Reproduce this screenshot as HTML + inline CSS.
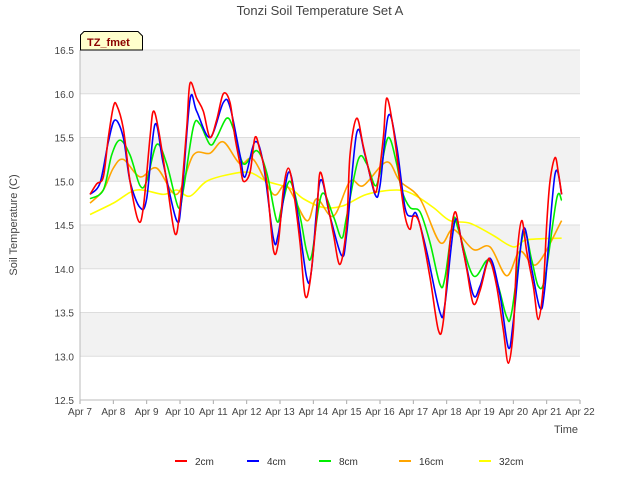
<!DOCTYPE html>
<html><head><meta charset="utf-8"><style>
body{margin:0;background:#fff;font-family:"Liberation Sans",sans-serif;}
svg text{font-family:"Liberation Sans",sans-serif;}
</style></head><body>
<svg width="640" height="480" viewBox="0 0 640 480">
<g id="bands"></g><g id="grid"></g><g id="axes"></g><g id="series"></g>
<text x="320" y="15" text-anchor="middle" font-size="13" fill="#444">Tonzi Soil Temperature Set A</text>
<text x="17" y="225" text-anchor="middle" font-size="11" fill="#444" transform="rotate(-90 17 225)">Soil Temperature (C)</text>
<text x="578" y="433" text-anchor="end" font-size="11" fill="#444">Time</text>
<g><path d="M80.5,50 L80.5,35 L84,31.5 L138,31.5 L142.5,36 L142.5,50 Z" fill="#ffffcc" stroke="#000" stroke-width="1"/>
<text x="87" y="46" font-size="11" font-weight="bold" fill="#8b0000">TZ_fmet</text></g>
<g id="legend"></g>
</svg>
<script>
const yTicks=[12.5,13,13.5,14,14.5,15,15.5,16,16.5];
const xTickLabels=["Apr 7","Apr 8","Apr 9","Apr 10","Apr 11","Apr 12","Apr 13","Apr 14","Apr 15","Apr 16","Apr 17","Apr 18","Apr 19","Apr 20","Apr 21","Apr 22"];
const seriesNames=["2cm","4cm","8cm","16cm","32cm"];
const seriesColors=["#ff0000","#0000ff","#00ee00","#ffa500","#ffff00"];
const t2=[7.3,7.5,7.7,7.85,8.0,8.1,8.3,8.5,8.75,8.9,9.1,9.2,9.35,9.6,9.85,10.0,10.2,10.3,10.5,10.7,10.9,11.1,11.3,11.5,11.65,11.8,11.9,12.1,12.25,12.4,12.6,12.8,12.95,13.1,13.25,13.4,13.6,13.75,13.9,14.1,14.2,14.4,14.6,14.8,15.0,15.1,15.3,15.5,15.75,15.9,16.1,16.2,16.4,16.6,16.75,16.9,17.0,17.2,17.5,17.75,17.9,18.1,18.25,18.4,18.6,18.8,19.0,19.2,19.3,19.5,19.7,19.85,20.0,20.1,20.25,20.4,20.6,20.75,20.9,21.0,21.1,21.25,21.35,21.45];
const v2=[14.85,14.97,15.05,15.5,15.85,15.87,15.6,15.0,14.55,14.7,15.5,15.8,15.6,15.0,14.4,14.7,15.6,16.12,15.95,15.8,15.5,15.7,16.0,15.9,15.5,15.2,15.0,15.1,15.5,15.35,15.0,14.22,14.3,14.9,15.15,14.9,14.3,13.7,13.85,14.6,15.1,14.8,14.4,14.05,14.5,15.3,15.72,15.4,15.0,14.9,15.5,15.95,15.6,15.0,14.6,14.45,14.6,14.5,13.9,13.3,13.4,14.3,14.65,14.4,14.0,13.6,13.75,14.05,14.1,13.8,13.3,12.92,13.3,14.1,14.55,14.2,13.8,13.42,13.8,14.5,15.0,15.27,15.1,14.85];
const t4=[7.3,7.6,7.85,8.05,8.3,8.5,8.8,9.0,9.25,9.5,9.9,10.05,10.3,10.5,10.9,11.3,11.5,11.8,11.95,12.25,12.5,12.8,12.95,13.25,13.5,13.8,13.95,14.2,14.5,14.85,15.0,15.3,15.55,15.85,16.0,16.25,16.5,16.75,16.95,17.1,17.4,17.8,17.95,18.25,18.5,18.8,19.0,19.3,19.6,19.85,20.0,20.3,20.55,20.8,20.95,21.25,21.45];
const v4=[14.85,14.98,15.45,15.7,15.5,15.0,14.7,14.8,15.65,15.2,14.55,14.8,15.93,15.8,15.5,15.9,15.85,15.3,15.05,15.45,15.2,14.35,14.4,15.1,14.7,13.9,14.0,15.0,14.6,14.15,14.4,15.55,15.3,14.85,14.95,15.75,15.4,14.7,14.6,14.62,14.2,13.5,13.6,14.55,14.2,13.7,13.8,14.12,13.7,13.1,13.4,14.45,14.0,13.55,13.8,15.08,14.85];
const t8=[7.3,7.7,7.95,8.2,8.5,8.8,9.0,9.3,9.6,9.95,10.1,10.4,10.6,10.9,11.1,11.4,11.6,11.9,12.3,12.6,12.9,13.05,13.3,13.6,13.8,13.95,14.25,14.6,14.85,15.0,15.35,15.6,15.85,16.0,16.25,16.5,16.65,16.9,17.2,17.5,17.8,17.95,18.2,18.35,18.8,19.25,19.55,19.8,19.95,20.3,20.55,20.75,20.95,21.3,21.45];
const v8=[14.8,14.9,15.3,15.47,15.3,14.95,15.0,15.42,15.2,14.7,14.9,15.62,15.65,15.42,15.5,15.72,15.6,15.2,15.35,15.1,14.55,14.7,15.0,14.6,14.2,14.15,14.85,14.6,14.35,14.6,15.25,15.2,14.95,15.1,15.5,15.2,14.9,14.7,14.65,14.3,13.82,13.9,14.55,14.45,13.92,14.1,13.8,13.45,13.5,14.4,14.1,13.8,13.9,14.8,14.78];
const t16=[7.3,7.7,8.0,8.3,8.8,9.3,9.9,10.4,10.9,11.3,11.8,12.2,12.8,13.2,13.8,14.1,14.6,15.1,15.5,16.2,16.6,17.2,17.8,18.2,18.8,19.3,19.8,20.2,20.7,21.45];
const v16=[14.75,14.9,15.15,15.25,15.05,15.15,14.85,15.3,15.32,15.45,15.2,15.25,14.85,14.95,14.55,14.8,14.6,15.0,14.95,15.22,15.0,14.8,14.3,14.45,14.22,14.25,13.92,14.2,14.05,14.55];
const t32=[7.3,8.0,8.7,9.5,9.9,10.3,10.8,11.5,12.1,12.6,13.3,13.7,14.3,14.9,15.6,16.5,17.0,17.6,18.1,18.7,19.4,20.0,20.4,21.45];
const v32=[14.62,14.75,14.9,14.85,14.9,14.83,15.0,15.08,15.1,15.0,14.92,14.8,14.7,14.72,14.85,14.9,14.85,14.7,14.55,14.52,14.38,14.25,14.33,14.35];
const allT=[t2,t4,t8,t16,t32], allV=[v2,v4,v8,v16,v32];

const L=80,R=580,T=50,B=400,NS="http://www.w3.org/2000/svg";
const xs=d=>L+(d-7)/15*(R-L);
const ys=v=>B-(v-12.5)/4*(B-T);
function mk(tag,attrs,parent){const e=document.createElementNS(NS,tag);for(const k in attrs)e.setAttribute(k,attrs[k]);parent.appendChild(e);return e;}
const bands=document.getElementById('bands'),grid=document.getElementById('grid'),axes=document.getElementById('axes'),ser=document.getElementById('series'),leg=document.getElementById('legend');
const bg=mk('rect',{x:L,y:T,width:R-L,height:B-T,fill:'#ffffff'},bands);


for(let i=0;i<yTicks.length-1;i++){
  if(i%2===1){const b=mk('rect',{x:L,y:ys(yTicks[i+1]),width:R-L,height:ys(yTicks[i])-ys(yTicks[i+1]),fill:'#f2f2f2'},bands);
  
  }
}
yTicks.forEach(v=>{
  const g=mk('line',{x1:L,x2:R,y1:ys(v),y2:ys(v),stroke:'#dddddd','stroke-width':1},grid);
  
  
  const t=mk('text',{x:L-6,y:ys(v)+4,'text-anchor':'end','font-size':10,fill:'#444'},axes);t.textContent=v.toFixed(1);
  
  
});
xTickLabels.forEach((s,i)=>{
  const x=xs(7+i);
  const tk=mk('line',{x1:x,x2:x,y1:B,y2:B+4,stroke:'#aaa'},axes);
  
  
  const t=mk('text',{x:x,y:B+15,'text-anchor':'middle','font-size':10,fill:'#444'},axes);t.textContent=s;
  
  
});
const ax=mk('path',{d:`M${L},${T} L${L},${B} L${R},${B}`,fill:'none',stroke:'#bbb'},axes);


function smooth(pts){let d=`M${pts[0][0]},${pts[0][1]}`;
  for(let i=0;i<pts.length-1;i++){const p0=pts[Math.max(0,i-1)],p1=pts[i],p2=pts[i+1],p3=pts[Math.min(pts.length-1,i+2)];
    const c1=[p1[0]+(p2[0]-p0[0])/6,p1[1]+(p2[1]-p0[1])/6],c2=[p2[0]-(p3[0]-p1[0])/6,p2[1]-(p3[1]-p1[1])/6];
    d+=` C${c1[0]},${c1[1]} ${c2[0]},${c2[1]} ${p2[0]},${p2[1]}`;}return d;}
for(let s=4;s>=0;s--){
  const pts=allT[s].map((t,i)=>[xs(t),ys(allV[s][i])]);
  const p=mk('path',{d:smooth(pts),fill:'none',stroke:seriesColors[s],'stroke-width':1.6},ser);
  
  
}
const lx=[175,247,319,399,479];
seriesNames.forEach((n,i)=>{
  const g=mk('g',{},leg);
  
  
  mk('line',{x1:lx[i],x2:lx[i]+12,y1:461,y2:461,stroke:seriesColors[i],'stroke-width':2},g);
  const t=mk('text',{x:lx[i]+20,y:465,'font-size':10,fill:'#333'},g);t.textContent=n;
});
</script>
</body></html>
